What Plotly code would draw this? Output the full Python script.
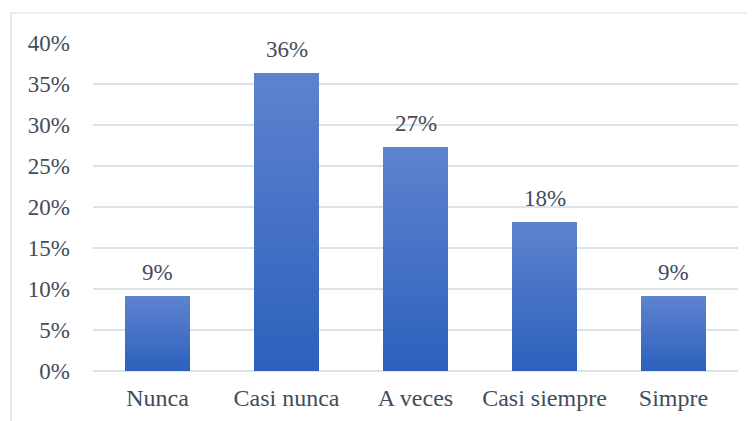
import plotly.graph_objects as go

categories = ["Nunca", "Casi nunca", "A veces", "Casi siempre", "Simpre"]
values = [0.0909, 0.3636, 0.2727, 0.1818, 0.0909]
labels = ["9%", "36%", "27%", "18%", "9%"]
tick_vals = [0, 0.05, 0.10, 0.15, 0.20, 0.25, 0.30, 0.35, 0.40]
tick_text = ["0%", "5%", "10%", "15%", "20%", "25%", "30%", "35%", "40%"]

TOP = (93, 130, 206)
BOT = (45, 97, 189)
N = 40
FONT = "Liberation Serif, Times New Roman, serif"
TXT = "#444C5A"
FS = 23

fig = go.Figure()
# gradient emulated by stacking equal slices of each bar's value
for i in range(N):
    t = i / (N - 1)
    c = tuple(round(BOT[k] + (TOP[k] - BOT[k]) * t) for k in range(3))
    fig.add_trace(go.Bar(
        x=categories,
        y=[v / N for v in values],
        marker=dict(color="rgb(%d,%d,%d)" % c, line=dict(width=0)),
        width=0.5,
        hoverinfo="skip",
        showlegend=False,
    ))

for cat, v, lab in zip(categories, values, labels):
    fig.add_annotation(x=cat, y=v, text=lab, showarrow=False, yanchor="bottom",
                       yshift=9, font=dict(family=FONT, size=FS, color=TXT))

fig.add_shape(type="rect", xref="paper", yref="paper", x0=-0.1271, y0=-0.4,
              x1=1.2, y1=1.0915, line=dict(color="#D9DCE1", width=1.2),
              fillcolor="rgba(0,0,0,0)", layer="below")

fig.update_layout(
    barmode="stack",
    width=755, height=421,
    margin=dict(l=85, r=25, t=35, b=58),
    paper_bgcolor="white", plot_bgcolor="white",
    font=dict(family=FONT, size=FS, color=TXT),
    xaxis=dict(showgrid=False, showline=False, ticks="", ticklabelstandoff=10,
               tickfont=dict(family=FONT, size=24, color=TXT)),
    yaxis=dict(range=[0, 0.4], tickvals=tick_vals, ticktext=tick_text,
               showgrid=True, gridcolor="#DDE1E8", gridwidth=1.5,
               zeroline=True, zerolinecolor="#DDE1E8", zerolinewidth=1.5,
               showline=False, ticks="", ticklabelstandoff=22,
               tickfont=dict(family=FONT, size=FS, color=TXT)),
    bargap=0.5,
)

fig.write_html("out.html")
